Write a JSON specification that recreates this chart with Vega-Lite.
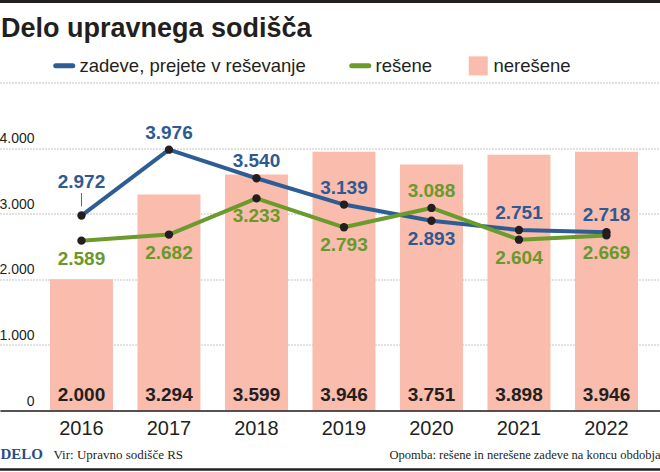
{
  "$schema": "https://vega.github.io/schema/vega-lite/v6.json",
  "width": 660,
  "height": 328,
  "autosize": {"type": "none"},
  "padding": {"left": 0, "right": 0, "top": 82.5, "bottom": 61.5},
  "background": "white",
  "title": {"text": "Delo upravnega sodišča", "anchor": "start", "frame": "group", "font": "Liberation Sans", "fontSize": 27, "fontWeight": "bold", "color": "#231f20", "offset": 0, "baseline": "alphabetic", "dy": 64, "dx": 1},
  "config": {
    "view": {"stroke": null},
    "locale": {"number": {"decimal": ",", "thousands": ".", "grouping": [3], "currency": ["", " €"]}}
  },
  "data": {"values": [
    {"leto": 2016, "serija": "zadeve, prejete v reševanje", "vrednost": 2972},
    {"leto": 2017, "serija": "zadeve, prejete v reševanje", "vrednost": 3976},
    {"leto": 2018, "serija": "zadeve, prejete v reševanje", "vrednost": 3540},
    {"leto": 2019, "serija": "zadeve, prejete v reševanje", "vrednost": 3139},
    {"leto": 2020, "serija": "zadeve, prejete v reševanje", "vrednost": 2893},
    {"leto": 2021, "serija": "zadeve, prejete v reševanje", "vrednost": 2751},
    {"leto": 2022, "serija": "zadeve, prejete v reševanje", "vrednost": 2718},
    {"leto": 2016, "serija": "rešene", "vrednost": 2589},
    {"leto": 2017, "serija": "rešene", "vrednost": 2682},
    {"leto": 2018, "serija": "rešene", "vrednost": 3233},
    {"leto": 2019, "serija": "rešene", "vrednost": 2793},
    {"leto": 2020, "serija": "rešene", "vrednost": 3088},
    {"leto": 2021, "serija": "rešene", "vrednost": 2604},
    {"leto": 2022, "serija": "rešene", "vrednost": 2669},
    {"leto": 2016, "serija": "nerešene", "vrednost": 2000},
    {"leto": 2017, "serija": "nerešene", "vrednost": 3294},
    {"leto": 2018, "serija": "nerešene", "vrednost": 3599},
    {"leto": 2019, "serija": "nerešene", "vrednost": 3946},
    {"leto": 2020, "serija": "nerešene", "vrednost": 3751},
    {"leto": 2021, "serija": "nerešene", "vrednost": 3898},
    {"leto": 2022, "serija": "nerešene", "vrednost": 3946}
  ]},
  "resolve": {"scale": {"x": "independent"}},
  "layer": [
    {
      "encoding": {
        "x": {"field": "leto", "type": "ordinal",
          "scale": {"type": "band", "domain": [2016, 2017, 2018, 2019, 2020, 2021, 2022], "paddingInner": 0.28, "paddingOuter": 0.4114, "align": 0.694},
          "axis": {"orient": "bottom", "domain": true, "domainColor": "#231f20", "domainWidth": 1.5, "ticks": false, "tickSize": 0, "labelPadding": 8, "labelFont": "Liberation Sans", "labelFontSize": 20, "labelColor": "#231f20", "labelAngle": 0, "grid": false, "zindex": 1,
            "title": "Vir: Upravno sodišče RS", "titleX": 53, "titleY": 47.5, "titleAlign": "left", "titleAnchor": "start", "titleBaseline": "alphabetic", "titleFont": "Liberation Sans Narrow", "titleFontSize": 13, "titleFontWeight": "normal", "titleColor": "#231f20"}}
      },
      "layer": [
        {
          "transform": [{"filter": "datum.serija === 'nerešene'"}],
          "mark": {"type": "bar"},
          "encoding": {
            "y": {"field": "vrednost", "type": "quantitative", "scale": {"domain": [0, 5000], "nice": false},
              "axis": {"orient": "left", "values": [0, 1000, 2000, 3000, 4000, 5000], "format": ",d", "labelExpr": "datum.value === 5000 ? '' : datum.label", "labelAlign": "right", "labelBaseline": "alphabetic", "labelPadding": -34, "labelOffset": -5.5, "ticks": false, "tickSize": 0, "domain": false, "grid": true, "gridColor": "#8a8a8a", "gridDash": [1, 2], "gridWidth": 1, "labelFont": "Liberation Sans", "labelFontSize": 14, "labelColor": "#231f20",
                "title": "Opomba: rešene in nerešene zadeve na koncu obdobja", "titleAngle": 0, "titleX": 660, "titleY": 375.5, "titleAlign": "right", "titleBaseline": "alphabetic", "titleFont": "Liberation Sans Narrow", "titleFontSize": 12.5, "titleFontWeight": "normal", "titleColor": "#231f20"}},
            "color": {"field": "serija", "type": "nominal",
              "scale": {"domain": ["zadeve, prejete v reševanje", "rešene", "nerešene"], "range": ["#2e5d96", "#6b9a2d", "#f9bcad"]},
              "legend": {"orient": "none", "legendX": 55, "legendY": -26.5, "direction": "horizontal", "columns": 3, "columnPadding": 35, "padding": 0, "title": null, "labelFont": "Liberation Sans", "labelFontSize": 18.5, "labelColor": "#231f20", "labelOffset": 6, "labelLimit": 400, "symbolSize": 289, "symbolStrokeWidth": 5,
                "encode": {"symbols": {"update": {
                  "shape": {"signal": "datum.value === 'nerešene' ? 'square' : 'stroke'"},
                  "size": {"signal": "datum.value === 'nerešene' ? 361 : 289"},
                  "fill": {"signal": "datum.value === 'nerešene' ? '#f9bcad' : 'transparent'"},
                  "stroke": {"signal": "datum.value === 'nerešene' ? 'transparent' : (datum.value === 'rešene' ? '#6b9a2d' : '#2e5d96')"},
                  "strokeWidth": {"signal": "datum.value === 'nerešene' ? 0 : 5"},
                  "strokeCap": {"value": "round"},
                  "opacity": {"value": 1}
                }}}}
            }
          }
        },
        {
          "transform": [{"filter": "datum.serija === 'nerešene'"}],
          "mark": {"type": "text", "baseline": "alphabetic", "dy": -9.5, "font": "Liberation Sans", "fontWeight": "bold", "fontSize": 19, "color": "#231f20"},
          "encoding": {
            "y": {"datum": 0, "type": "quantitative"},
            "text": {"field": "vrednost", "type": "quantitative", "format": ",d"}
          }
        },
        {
          "transform": [{"filter": "datum.serija === 'nerešene' && datum.leto === 2016"}],
          "mark": {"type": "rule", "color": "#231f20", "strokeWidth": 3},
          "encoding": {"y": {"datum": 6234.8, "type": "quantitative"}, "x": null}
        },
        {
          "transform": [{"filter": "datum.serija === 'nerešene' && datum.leto === 2016"}],
          "mark": {"type": "rule", "color": "#231f20", "strokeWidth": 2.5},
          "encoding": {"y": {"datum": -899.4, "type": "quantitative"}, "x": null}
        }
      ]
    },
    {
      "transform": [{"filter": "datum.serija !== 'nerešene'"}],
      "encoding": {
        "x": {"field": "leto", "type": "ordinal",
          "scale": {"type": "band", "domain": [2016, 2017, 2018, 2019, 2020, 2021, 2022], "paddingInner": 0.28, "paddingOuter": 0.4114, "align": 0.694},
          "axis": null},
        "y": {"field": "vrednost", "type": "quantitative"}
      },
      "layer": [
        {
          "mark": {"type": "line", "strokeWidth": 4, "strokeJoin": "round"},
          "encoding": {
            "color": {"field": "serija", "type": "nominal",
              "scale": {"domain": ["zadeve, prejete v reševanje", "rešene", "nerešene"], "range": ["#2e5d96", "#6b9a2d", "#f9bcad"]},
              "legend": {"orient": "none", "legendX": 55, "legendY": -26.5, "direction": "horizontal", "columns": 3, "columnPadding": 35, "padding": 0, "title": null, "labelFont": "Liberation Sans", "labelFontSize": 18.5, "labelColor": "#231f20", "labelOffset": 6, "labelLimit": 400, "symbolSize": 289, "symbolStrokeWidth": 5,
                "encode": {"symbols": {"update": {
                  "shape": {"signal": "datum.value === 'nerešene' ? 'square' : 'stroke'"},
                  "size": {"signal": "datum.value === 'nerešene' ? 361 : 289"},
                  "fill": {"signal": "datum.value === 'nerešene' ? '#f9bcad' : 'transparent'"},
                  "stroke": {"signal": "datum.value === 'nerešene' ? 'transparent' : (datum.value === 'rešene' ? '#6b9a2d' : '#2e5d96')"},
                  "strokeWidth": {"signal": "datum.value === 'nerešene' ? 0 : 5"},
                  "strokeCap": {"value": "round"},
                  "opacity": {"value": 1}
                }}}}
            }
          }
        },
        {
          "mark": {"type": "circle", "size": 70, "color": "#231f20", "opacity": 1}
        },
        {
          "transform": [{"filter": "datum.serija === 'zadeve, prejete v reševanje' && datum.leto !== 2016 && datum.leto !== 2020"}],
          "mark": {"type": "text", "baseline": "middle", "dy": -17, "font": "Liberation Sans", "fontWeight": "bold", "fontSize": 19, "color": "#2e5a92"},
          "encoding": {"text": {"field": "vrednost", "type": "quantitative", "format": ",d"}}
        },
        {
          "transform": [{"filter": "datum.serija === 'zadeve, prejete v reševanje' && datum.leto === 2016"}],
          "mark": {"type": "text", "baseline": "middle", "dy": -34, "font": "Liberation Sans", "fontWeight": "bold", "fontSize": 19, "color": "#2e5a92"},
          "encoding": {"text": {"field": "vrednost", "type": "quantitative", "format": ",d"}}
        },
        {
          "transform": [{"filter": "datum.serija === 'zadeve, prejete v reševanje' && datum.leto === 2020"}],
          "mark": {"type": "text", "baseline": "middle", "dy": 18, "font": "Liberation Sans", "fontWeight": "bold", "fontSize": 19, "color": "#2e5a92"},
          "encoding": {"text": {"field": "vrednost", "type": "quantitative", "format": ",d"}}
        },
        {
          "transform": [{"filter": "datum.serija === 'rešene' && datum.leto !== 2020"}],
          "mark": {"type": "text", "baseline": "middle", "dy": 18, "font": "Liberation Sans", "fontWeight": "bold", "fontSize": 19, "color": "#6a992b"},
          "encoding": {"text": {"field": "vrednost", "type": "quantitative", "format": ",d"}}
        },
        {
          "transform": [{"filter": "datum.serija === 'rešene' && datum.leto === 2020"}],
          "mark": {"type": "text", "baseline": "middle", "dy": -17, "font": "Liberation Sans", "fontWeight": "bold", "fontSize": 19, "color": "#6a992b"},
          "encoding": {"text": {"field": "vrednost", "type": "quantitative", "format": ",d"}}
        }
      ]
    },
    {
      "transform": [{"filter": "datum.serija === 'zadeve, prejete v reševanje' && datum.leto === 2016"}],
      "mark": {"type": "tick", "orient": "vertical", "size": 13.5, "thickness": 1, "yOffset": -15.7, "color": "#231f20"},
      "encoding": {
        "x": {"field": "leto", "type": "ordinal",
          "scale": {"type": "band", "domain": [2016, 2017, 2018, 2019, 2020, 2021, 2022], "paddingInner": 0.28, "paddingOuter": 0.4114, "align": 0.694},
          "axis": {"orient": "bottom", "offset": 59, "domain": false, "labels": false, "ticks": false, "grid": false,
            "title": "DELO", "titleX": 0, "titleY": -11.5, "titleAlign": "left", "titleAnchor": "start", "titleBaseline": "alphabetic", "titleFont": "Liberation Serif", "titleFontSize": 15, "titleFontWeight": "bold", "titleColor": "#2b4c85"}},
        "y": {"field": "vrednost", "type": "quantitative"}
      }
    }
  ]
}
